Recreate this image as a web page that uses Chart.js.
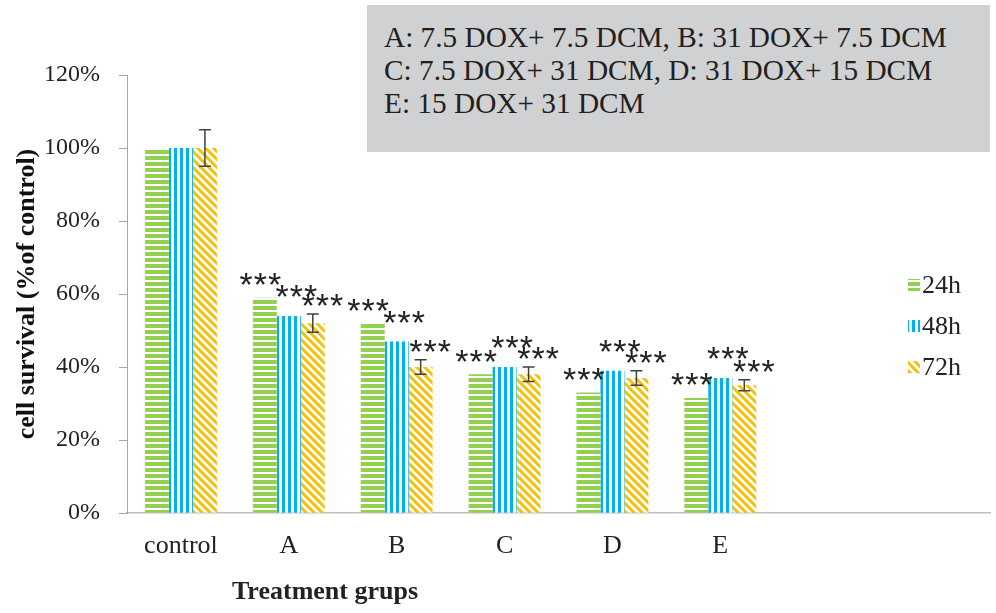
<!DOCTYPE html>
<html><head><meta charset="utf-8">
<script src="https://cdn.jsdelivr.net/npm/chart.js@4.4.1/dist/chart.umd.min.js"></script>
<style>
html,body{margin:0;padding:0;background:#fff;}
#wrap{position:relative;width:996px;height:613px;}
#note{position:absolute;left:367px;top:5px;width:623px;height:147px;background:#D0D1D3;
 font-family:"Liberation Serif","Times New Roman",serif;font-size:29.3px;line-height:33px;color:#231F20;
 box-sizing:border-box;padding:16px 0 0 17px;}
</style></head>
<body><div id="wrap"><canvas id="c" width="996" height="613"></canvas>
<div id="note">A: 7.5 DOX+ 7.5 DCM, B: 31 DOX+ 7.5 DCM<br>C: 7.5 DOX+ 31 DCM, D: 31 DOX+ 15 DCM<br>E: 15 DOX+ 31 DCM</div></div>
<script>
const categories = ['control','A','B','C','D','E','',''];
const seriesNames = ['24h','48h','72h'];
const values24 = [100, 59, 52, 38, 33, 31.5, null, null];
const values48 = [100, 54, 47, 40, 39, 37, null, null];
const values72 = [100, 52, 40, 38, 37, 35, null, null];
const errors72 = [5, 2.5, 2, 2, 2, 1.5, null, null];
const stars24 = ['', '***', '***', '***', '***', '***', '', ''];
const stars48 = ['', '***', '***', '***', '***', '***', '', ''];
const stars72 = ['', '***', '***', '***', '***', '***', '', ''];
const yTicks = [0, 20, 40, 60, 80, 100, 120];

function makePattern(kind){
  const s = kind==='orange'?8:6;
  const cv=document.createElement('canvas'); cv.width=s; cv.height=s;
  const g=cv.getContext('2d');
  g.fillStyle='#fff'; g.fillRect(0,0,s,s);
  for(let x=0;x<s;x++)for(let y=0;y<s;y++){
    let on=false, col;
    if(kind==='green'){on = y<4; col='#92D050';}
    else if(kind==='blue'){on = x<3; col='#00B0F0';}
    else {on = ((x - y + 16) % 8) < 4; col='#FFC000';}
    if(on){g.fillStyle=col; g.fillRect(x,y,1,1);}
  }
  return g.createPattern(cv,'repeat');
}
const ctx0=document.getElementById('c').getContext('2d');
const pats=[makePattern('green'),makePattern('blue'),makePattern('orange')];

const serif='"Liberation Serif","Times New Roman",serif';

const extras = {
  id:'extras',
  afterDatasetsDraw(chart){
    const ctx=chart.ctx;
    const y=chart.scales.y;
    const m2=chart.getDatasetMeta(2);
    ctx.save();
    ctx.strokeStyle='#404040'; ctx.lineWidth=1.5;
    m2.data.forEach((el,i)=>{
      const e=errors72[i]; if(e==null||values72[i]==null) return;
      const yt=y.getPixelForValue(values72[i]+e), yb=y.getPixelForValue(values72[i]-e);
      ctx.beginPath();
      ctx.moveTo(el.x,yt);ctx.lineTo(el.x,yb);
      ctx.moveTo(el.x-6,yt);ctx.lineTo(el.x+6,yt);
      ctx.moveTo(el.x-6,yb);ctx.lineTo(el.x+6,yb);
      ctx.stroke();
    });
    ctx.fillStyle='#222';
    ctx.font='34px "Liberation Sans", Arial, sans-serif';
    if('letterSpacing' in ctx) ctx.letterSpacing='1px';
    ctx.textAlign='center'; ctx.textBaseline='middle';
    const starSets=[stars24,stars48,stars72];
    const vals=[values24,values48,values72];
    const dy=[16,22,11], dx=[-4,8,10];
    for(let d=0;d<3;d++){
      const meta=chart.getDatasetMeta(d);
      meta.data.forEach((el,i)=>{
        const t=starSets[d][i]; if(!t) return;
        let top=vals[d][i]; if(d===2&&errors72[i]) top+=errors72[i];
        ctx.fillText(t, el.x+dx[d], y.getPixelForValue(top)-dy[d]+5);
      });
    }
    if('letterSpacing' in ctx) ctx.letterSpacing='0px';
    ctx.textAlign='left'; ctx.textBaseline='middle';
    ctx.font='26px '+serif;
    seriesNames.forEach((n,i)=>{
      const cy=285+i*41;
      ctx.fillStyle=pats[i]; ctx.fillRect(908,cy-6,12,12);
      ctx.fillStyle='#222'; ctx.fillText(n,922,cy+1);
    });
    ctx.font='bold 26px '+serif; ctx.textAlign='center';
    ctx.fillText('Treatment grups',325,592);
    ctx.restore();
  }
};

new Chart(ctx0,{
  type:'bar',
  data:{labels:categories,datasets:[
    {label:seriesNames[0],data:values24,backgroundColor:pats[0],borderWidth:0},
    {label:seriesNames[1],data:values48,backgroundColor:pats[1],borderWidth:0},
    {label:seriesNames[2],data:values72,backgroundColor:pats[2],borderWidth:0}
  ]},
  options:{
    responsive:false,animation:false,
    datasets:{bar:{categoryPercentage:0.667,barPercentage:1}},
    layout:{padding:{top:75,right:6,left:0,bottom:0}},
    plugins:{legend:{display:false},tooltip:{enabled:false}},
    scales:{
      x:{grid:{display:false,drawTicks:false},border:{display:true,color:'#BFBFBF',width:1.5},
        ticks:{color:'#222',font:{family:serif,size:26},padding:18,maxRotation:0,autoSkip:false},
        afterFit(s){s.height=100;}},
      y:{min:0,max:120,afterBuildTicks(s){s.ticks=yTicks.map(v=>({value:v}));},
        grid:{display:true,drawOnChartArea:false,drawTicks:true,tickLength:8,color:'#A6A6A6'},
        border:{display:true,color:'#A6A6A6',width:1},
        ticks:{color:'#222',font:{family:serif,size:24},padding:19,callback:v=>v+'%'},
        title:{display:true,text:'cell survival (%of control)',color:'#111',font:{family:serif,size:26,weight:'bold'},padding:{top:12,bottom:0}},
        afterFit(s){s.width=127;}}
    }
  },
  plugins:[extras]
});
</script></body></html>
